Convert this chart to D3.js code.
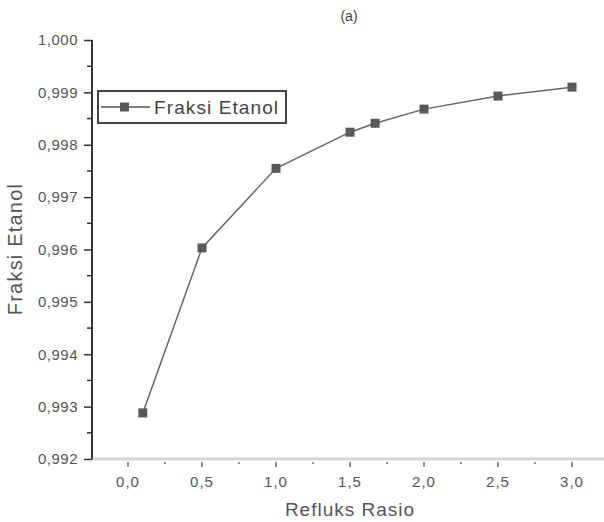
<!DOCTYPE html>
<html>
<head>
<meta charset="utf-8">
<script src="https://cdn.jsdelivr.net/npm/d3@7"></script>
<style>
  body { margin: 0; background: #fff; }
  svg text { font-family: "Liberation Sans", Arial, sans-serif; }
</style>
</head>
<body>
<svg id="chart" width="604" height="522"></svg>
<script>
"use strict";

// data
var refluxRatio = [0.1, 0.5, 1.0, 1.5, 1.67, 2.0, 2.5, 3.0];
var ethanolFraction = [0.99288, 0.99603, 0.99755, 0.99824, 0.99841, 0.99868, 0.99893, 0.99910];
var xTicks = [0.0, 0.5, 1.0, 1.5, 2.0, 2.5, 3.0];
var yTicks = [0.992, 0.993, 0.994, 0.995, 0.996, 0.997, 0.998, 0.999, 1.000];
var seriesName = "Fraksi Etanol";

var svg = d3.select("#chart");

var x = d3.scaleLinear().domain([-0.25, 3.25]).range([91, 609]);
var y = d3.scaleLinear().domain([0.992, 1.000]).range([459, 40]);

function comma(fmt){
  return function(d){ return d3.format(fmt)(d).replace(".", ","); };
}

// x axis: light thick baseline, small ticks below
var xAxis_g = svg.append("g").attr("transform", "translate(0,459)");
xAxis_g.append("line")
  .attr("x1", 91).attr("x2", 604)
  .attr("stroke", "#d4d4d4").attr("stroke-width", 3);

var xMinor = d3.range(0.25, 3.0, 0.5);
xAxis_g.selectAll(".xminor").data(xMinor).enter().append("line")
  .attr("class", "xminor")
  .attr("x1", function(d){ return x(d); }).attr("x2", function(d){ return x(d); })
  .attr("y1", 3).attr("y2", 5)
  .attr("stroke", "#444").attr("stroke-width", 1.2);

xAxis_g.selectAll(".xmajor").data(xTicks).enter().append("line")
  .attr("class", "xmajor")
  .attr("x1", function(d){ return x(d); }).attr("x2", function(d){ return x(d); })
  .attr("y1", 3).attr("y2", 8)
  .attr("stroke", "#444").attr("stroke-width", 1.2);

xAxis_g.selectAll(".xlabel").data(xTicks).enter().append("text")
  .attr("class", "xlabel")
  .attr("x", function(d){ return x(d); })
  .attr("y", 28)
  .attr("text-anchor", "middle")
  .attr("font-size", 15)
  .attr("letter-spacing", 1)
  .attr("fill", "#555")
  .text(comma(".1f"));

// y axis: dark line with outward ticks
var yAxis = d3.axisLeft(y)
  .tickValues(yTicks)
  .tickSize(8)
  .tickPadding(6)
  .tickFormat(comma(".3f"));

var yAxis_g = svg.append("g").attr("transform", "translate(92,0)").call(yAxis);
yAxis_g.select(".domain").attr("stroke", "#333").attr("stroke-width", 2).attr("d", "M0," + y(1.0) + "V" + 459);
yAxis_g.selectAll(".tick line").attr("stroke", "#333").attr("stroke-width", 1.5);
yAxis_g.selectAll(".tick text")
  .attr("font-size", 15)
  .attr("letter-spacing", 0.5)
  .attr("fill", "#555")
  .attr("font-family", "Liberation Sans, Arial, sans-serif");

var yMinor = d3.range(0.9925, 1.0, 0.001);
yAxis_g.selectAll(".yminor").data(yMinor).enter().append("line")
  .attr("class", "yminor")
  .attr("x1", -5).attr("x2", 0)
  .attr("y1", function(d){ return y(d); }).attr("y2", function(d){ return y(d); })
  .attr("stroke", "#333").attr("stroke-width", 1.5);

// series
var points = refluxRatio.map(function(r, i){ return {x: r, y: ethanolFraction[i]}; });

var line = d3.line()
  .x(function(d){ return x(d.x); })
  .y(function(d){ return y(d.y); });

svg.append("path")
  .datum(points)
  .attr("d", line)
  .attr("fill", "none")
  .attr("stroke", "#666")
  .attr("stroke-width", 1.5);

svg.selectAll(".marker").data(points).enter().append("rect")
  .attr("class", "marker")
  .attr("x", function(d){ return x(d.x) - 4.5; })
  .attr("y", function(d){ return y(d.y) - 4.5; })
  .attr("width", 9).attr("height", 9)
  .attr("fill", "#595959");

// legend
var legend_g = svg.append("g").attr("transform", "translate(98,91)");
legend_g.append("rect")
  .attr("x", 0).attr("y", 0).attr("width", 188).attr("height", 32)
  .attr("fill", "#fff").attr("stroke", "#444").attr("stroke-width", 2);
legend_g.append("line")
  .attr("x1", 3).attr("x2", 52).attr("y1", 16).attr("y2", 16)
  .attr("stroke", "#555").attr("stroke-width", 1.5);
legend_g.append("rect")
  .attr("x", 22).attr("y", 11.5).attr("width", 9).attr("height", 9)
  .attr("fill", "#595959");
legend_g.append("text")
  .attr("x", 56).attr("y", 23)
  .attr("font-size", 19)
  .attr("letter-spacing", 1.1)
  .attr("fill", "#444")
  .text(seriesName);

// titles
svg.append("text")
  .attr("x", 349).attr("y", 21)
  .attr("text-anchor", "middle")
  .attr("font-size", 14)
  .attr("fill", "#444")
  .text("(a)");

svg.append("text")
  .attr("x", 350).attr("y", 516)
  .attr("text-anchor", "middle")
  .attr("font-size", 19)
  .attr("letter-spacing", 1)
  .attr("fill", "#555")
  .text("Refluks Rasio");

svg.append("text")
  .attr("transform", "translate(22,249) rotate(-90)")
  .attr("text-anchor", "middle")
  .attr("font-size", 20)
  .attr("letter-spacing", 1.2)
  .attr("fill", "#555")
  .text(seriesName);
</script>
</body>
</html>
